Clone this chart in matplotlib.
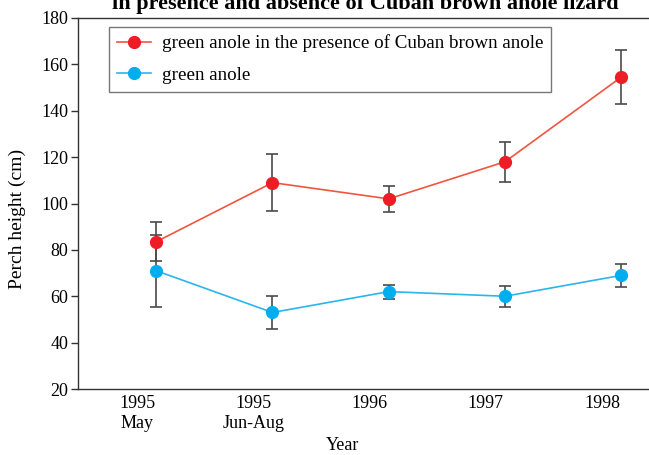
import matplotlib
matplotlib.use("Agg")
import matplotlib.pyplot as plt
import numpy as np

categories = ["1995\nMay", "1995\nJun-Aug", "1996", "1997", "1998"]
red_vals = [83.5, 109, 102, 118, 154.5]
red_err = [8.5, 12.3, 5.7, 8.6, 11.6]
blue_vals = [71, 53, 62, 60, 69]
blue_err = [15.5, 7.3, 3, 4.5, 5]
red_label = "green anole in the presence of Cuban brown anole"
blue_label = "green anole"
title = "in presence and absence of Cuban brown anole lizard"

plt.rcParams['font.family'] = ['Liberation Serif', 'DejaVu Serif']

fig = plt.figure(figsize=(6.49, 4.55), dpi=100)
ax = fig.add_axes([78/649, 66/455, 590/649, 371/455])

x = np.arange(len(categories))
xp = x + 0.165

ax.errorbar(xp, red_vals, yerr=red_err, fmt='none', ecolor='#4a4a4a',
            elinewidth=1.2, capsize=4, capthick=1.2, zorder=2)
ax.errorbar(xp, blue_vals, yerr=blue_err, fmt='none', ecolor='#4a4a4a',
            elinewidth=1.2, capsize=4, capthick=1.2, zorder=2)
ax.plot(xp, red_vals, color='#f2553f', lw=1.2, marker='o', markersize=8.5,
        markerfacecolor='#ee1c25', markeredgecolor='#ee1c25', label=red_label, zorder=3)
ax.plot(xp, blue_vals, color='#29b6ec', lw=1.2, marker='o', markersize=8.5,
        markerfacecolor='#00aeef', markeredgecolor='#00aeef', label=blue_label, zorder=3)

ax.set_xlim(-0.508, -0.508 + 590/116.25)
ax.set_ylim(20, 180)
ax.set_yticks(np.arange(20, 181, 20))
ax.set_xticks(x)
ax.set_xticklabels(categories, fontsize=13, linespacing=1.3)
ax.tick_params(axis='x', length=0, pad=4)
ax.tick_params(axis='y', length=5, width=1, labelsize=13, color='#333333', pad=2)
for s in ['left', 'bottom', 'top']:
    ax.spines[s].set_color('#333333')
    ax.spines[s].set_linewidth(1.0)
ax.spines['right'].set_visible(False)

fig.text(17/649, 1 - 219/455, "Perch height (cm)", rotation=90,
         ha='center', va='center', fontsize=14)
fig.text(343/649, 1 - 446/455, "Year", ha='center', va='center', fontsize=13)

leg = ax.legend(loc='upper left', bbox_to_anchor=((109-78)/590, 1 - (27-18)/371),
                borderaxespad=0, fontsize=13.7, frameon=True, fancybox=False,
                edgecolor='#555555', borderpad=0.4, handlelength=1.8,
                handletextpad=0.6, labelspacing=0.75)
leg.get_frame().set_linewidth(1.0)

fig.text(365/649, 1 - 9/455, title, ha='center', va='baseline',
         fontsize=16, fontweight='bold')

fig.savefig("out.png", dpi=100)
